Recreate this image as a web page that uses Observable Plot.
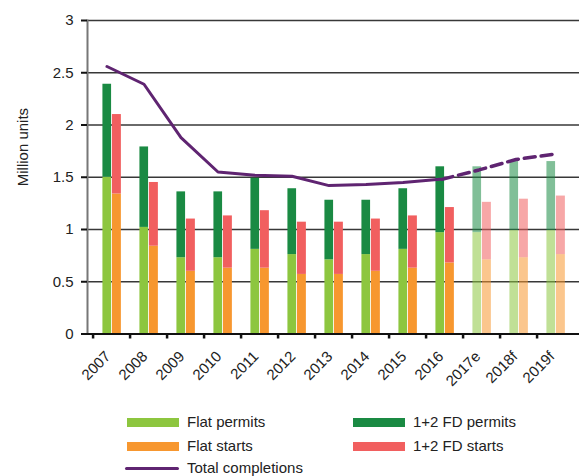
<!DOCTYPE html>
<html>
<head>
<meta charset="utf-8">
<script src="https://cdn.jsdelivr.net/npm/d3@7"></script>
<script src="https://cdn.jsdelivr.net/npm/@observablehq/plot@0.6"></script>
<style>
  body { margin: 0; background: #fff; font-family: "Liberation Sans", Arial, Helvetica, sans-serif; color: #222; }
  #chart { width: 579px; }
  .legend { position: relative; width: 579px; height: 71px; font-size: 15px; }
  .legend .item { position: absolute; height: 20px; line-height: 20px; white-space: nowrap; }
  .legend .sw { position: absolute; left: 0; top: 6px; width: 52px; height: 9px; }
  .legend .ln { position: absolute; left: -2px; top: 9px; width: 54px; height: 3px; border-radius: 2px; }
  .legend .lab { position: absolute; left: 60px; top: 0; }
</style>
</head>
<body>
<div id="chart"></div>
<div class="legend" id="legend"></div>
<script>
// Years (e = estimate, f = forecast)
const years = ["2007", "2008", "2009", "2010", "2011", "2012", "2013", "2014", "2015", "2016", "2017e", "2018f", "2019f"];

// Building permits, million units
const flatPermits = [1.50, 1.02, 0.73, 0.73, 0.81, 0.76, 0.71, 0.76, 0.81, 0.97, 0.97, 0.99, 0.99];
const fdPermits   = [0.89, 0.77, 0.63, 0.63, 0.68, 0.63, 0.57, 0.52, 0.58, 0.63, 0.63, 0.66, 0.66];

// Housing starts, million units
const flatStarts  = [1.34, 0.84, 0.60, 0.63, 0.63, 0.57, 0.57, 0.60, 0.63, 0.68, 0.71, 0.73, 0.76];
const fdStarts    = [0.76, 0.61, 0.50, 0.50, 0.55, 0.50, 0.50, 0.50, 0.50, 0.53, 0.55, 0.56, 0.56];

// Total completions, million units
const completions = [2.56, 2.39, 1.88, 1.55, 1.52, 1.51, 1.42, 1.43, 1.45, 1.48, 1.57, 1.67, 1.72];

const yTicks = [0, 0.5, 1, 1.5, 2, 2.5, 3];

const seriesNames = ["Flat permits", "1+2 FD permits", "Flat starts", "1+2 FD starts"];
const seriesColors = ["#8dc63f", "#1a8a43", "#f7972f", "#f15f5f"];
const lineColor = "#5f2471";

const isForecast = y => /[ef]$/.test(y);

const permits = years.flatMap((year, i) => [
  {year, series: "Flat permits", value: flatPermits[i]},
  {year, series: "1+2 FD permits", value: fdPermits[i]}
]);
const starts = years.flatMap((year, i) => [
  {year, series: "Flat starts", value: flatStarts[i]},
  {year, series: "1+2 FD starts", value: fdStarts[i]}
]);
const totals = years.map((year, i) => ({year, value: completions[i]}));
const lastActual = years.findIndex(isForecast) - 1;
const actualLine = totals.slice(0, lastActual + 1);
const forecastLine = totals.slice(lastActual);

const W = 579, H = 405, ML = 87, MR = 0, MT = 20, MB = 71.5;
const band = (W - ML - MR) / years.length;

const chart = Plot.plot({
  width: W,
  height: H,
  marginLeft: ML,
  marginRight: MR,
  marginTop: MT,
  marginBottom: MB,
  style: {fontFamily: "'Liberation Sans', Arial, Helvetica, sans-serif", fontSize: "15px", color: "#222", background: "#fff"},
  x: {domain: years, padding: 0, axis: null},
  y: {domain: [0, 3], axis: null},
  color: {domain: seriesNames, range: seriesColors},
  marks: [
    Plot.gridY(yTicks, {stroke: "#222", strokeOpacity: 0.9, strokeWidth: 1.3}),
    Plot.barY(permits, {
      x: "year", y: "value", fill: "series",
      fillOpacity: d => isForecast(d.year) ? 0.55 : 1,
      insetLeft: band / 2 - 9.5, insetRight: band / 2
    }),
    Plot.barY(starts, {
      x: "year", y: "value", fill: "series",
      fillOpacity: d => isForecast(d.year) ? 0.55 : 1,
      insetLeft: band / 2, insetRight: band / 2 - 9.8
    }),
    Plot.line(actualLine, {x: "year", y: "value", stroke: lineColor, strokeWidth: 3, dx: -5, curve: "linear"}),
    Plot.line(forecastLine, {x: "year", y: "value", stroke: lineColor, strokeWidth: 3.5, dx: -3, strokeDasharray: "11,6"}),
    Plot.frame({anchor: "left", stroke: "#777", strokeWidth: 2}),
    Plot.ruleY([0], {stroke: "#111", strokeWidth: 2}),
    Plot.axisY({ticks: yTicks, tickFormat: d => String(d), tickSize: 6, tickPadding: 8, stroke: "#111", strokeWidth: 2, label: null, fontSize: 15}),
    // category separators below the baseline
    Plot.axisX({tickSize: 5, tickFormat: () => "", dx: -band / 2, stroke: "#111", strokeWidth: 2.5, label: null}),
    Plot.axisX({tickSize: 0, tickRotate: -45, tickPadding: 20, dx: -4, label: null, fontSize: 15}),
    Plot.text(["Million units"], {frameAnchor: "left", rotate: -90, dx: -64, dy: 9, fontSize: 15})
  ]
});
document.getElementById("chart").appendChild(chart);

// Legend drawn below the plot
const legendItems = [
  {label: "Flat permits", color: seriesColors[0], left: 127, top: 0, type: "bar"},
  {label: "1+2 FD permits", color: seriesColors[1], left: 353, top: 0, type: "bar"},
  {label: "Flat starts", color: seriesColors[2], left: 127, top: 24, type: "bar"},
  {label: "1+2 FD starts", color: seriesColors[3], left: 353, top: 24, type: "bar"},
  {label: "Total completions", color: lineColor, left: 127, top: 46, type: "line"}
];
const legend = d3.select("#legend");
for (const it of legendItems) {
  const el = legend.append("div").attr("class", "item").style("left", it.left + "px").style("top", (it.top + 7) + "px");
  el.append("div").attr("class", it.type === "bar" ? "sw" : "ln").style("background", it.color);
  el.append("div").attr("class", "lab").text(it.label);
}
</script>
</body>
</html>
